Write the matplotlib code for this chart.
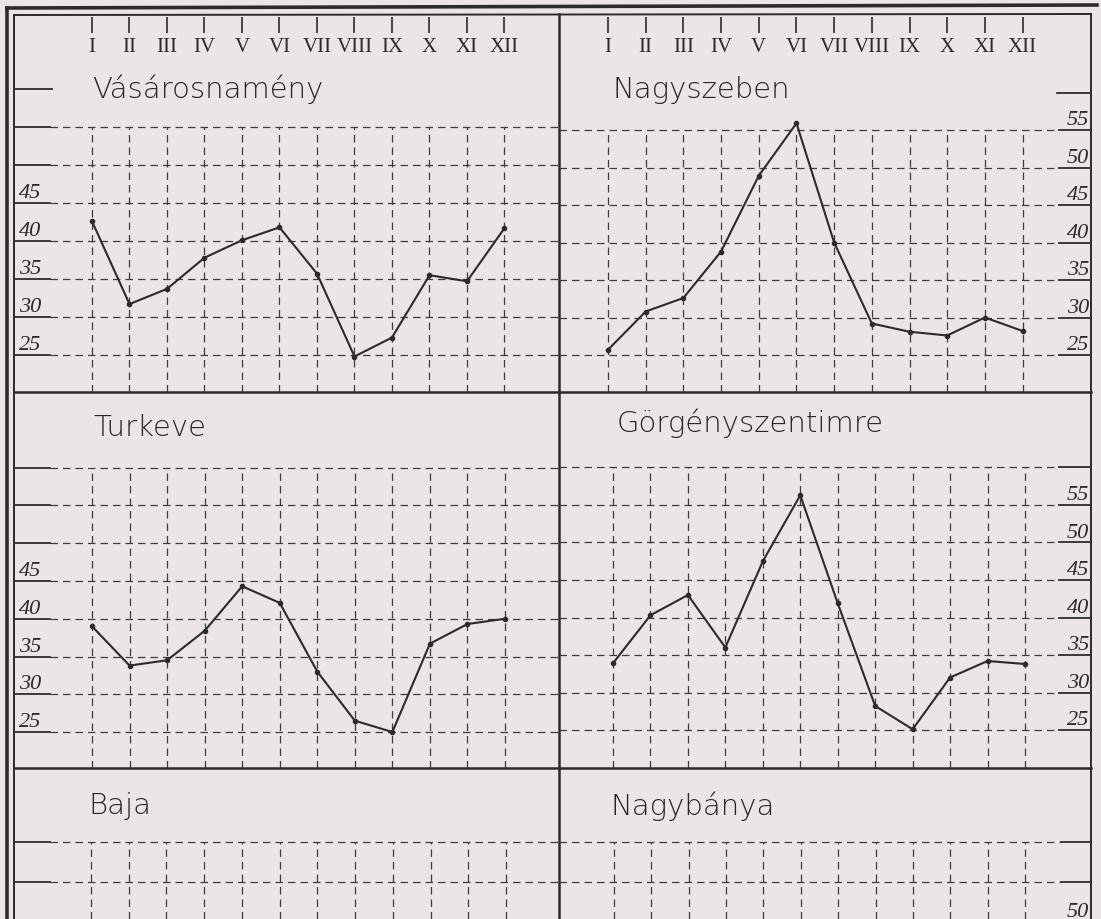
import matplotlib
matplotlib.use("Agg")
import matplotlib.pyplot as plt

# month labels (roman numerals) and monthly values
months = ["I", "II", "III", "IV", "V", "VI", "VII", "VIII", "IX", "X", "XI", "XII"]
month_idx = list(range(1, 13))

vasarosnameny = [42.6, 31.7, 33.7, 37.8, 40.1, 41.8, 35.7, 24.8, 27.3, 35.5, 34.7, 41.7]
nagyszeben = [25.7, 30.8, 32.6, 38.8, 48.9, 55.9, 40.0, 29.2, 28.1, 27.6, 30.0, 28.2]
turkeve = [39.0, 33.8, 34.5, 38.4, 44.3, 42.1, 33.0, 26.5, 25.0, 36.7, 39.3, 40.0]
gorgenyszentimre = [33.9, 40.3, 43.0, 36.0, 47.5, 56.3, 41.9, 28.2, 25.1, 32.0, 34.2, 33.8]

left_labels = [45, 40, 35, 30, 25]
right_labels = [55, 50, 45, 40, 35, 30, 25]

W, H = 1101, 920
BG = "#ebe5e7"
INK = "#2b2b2b"
GRID = "#3c3c3c"
SERIF = ["Liberation Serif", "DejaVu Serif"]
SANS = ["DejaVu Sans"]

fig = plt.figure(figsize=(W / 100, H / 100), dpi=100, facecolor=BG)

# background axes in pixel units for the frame of the sheet
bg = fig.add_axes([0, 0, 1, 1])
bg.set_xlim(0, W)
bg.set_ylim(H, 0)
bg.axis("off")
bg.plot([7, 7], [9, H], color=INK, lw=2.6)
bg.plot([14, 14], [16, H], color=INK, lw=1.4)
bg.plot([7, 1097], [9, 6], color=INK, lw=2.6)
bg.plot([14, 1091], [16, 15], color=INK, lw=1.4)
bg.plot([1091, 1091], [15, H], color=INK, lw=1.4)
bg.plot([14, 1091], [393, 393], color=INK, lw=1.8)
bg.plot([14, 1091], [769, 769], color=INK, lw=1.8)
bg.plot([559, 559], [15, H], color=INK, lw=1.8)


def make_panel(box, x_first, x_last, y_hi, v_hi, y_lo, v_lo):
    # box = (left, right, top, bottom) in pixels; anchors map months / values to pixels
    l, r, t, b = box
    ax = fig.add_axes([l / W, 1 - b / H, (r - l) / W, (b - t) / H])
    ax.patch.set_alpha(0)
    dx = (x_last - x_first) / 11
    dy = (y_lo - y_hi) / (v_hi - v_lo)
    ax.set_xlim(1 - (x_first - l) / dx, 1 + (r - x_first) / dx)
    ax.set_ylim(v_lo - (b - y_lo) / dy, v_hi + (y_hi - t) / dy)
    ax.axis("off")
    ax.px = (r - l, b - t)
    return ax


def draw_grid(ax, levels, side, top_level, seg_px=36):
    seg = seg_px / ax.px[0]
    tr = ax.get_yaxis_transform()
    for v in levels:
        if side == "left":
            ax.plot([0, seg], [v, v], transform=tr, color=INK, lw=1.3)
            ax.axhline(v, xmin=seg, xmax=1, color=GRID, lw=0.9, ls=(0, (6, 4)))
        else:
            ax.plot([1 - seg, 1], [v, v], transform=tr, color=INK, lw=1.3)
            ax.axhline(v, xmin=0, xmax=1 - seg, color=GRID, lw=0.9, ls=(0, (6, 4)))
    ax.vlines(month_idx, ax.get_ylim()[0], top_level, color=GRID, lw=0.9,
              linestyles=(0, (6, 4)))


def draw_labels(ax, labels, side):
    tr = ax.get_yaxis_transform()
    for v in labels:
        if side == "left":
            ax.text(5 / ax.px[0], v + 0.1, str(v), transform=tr,
                    ha="left", va="bottom", fontsize=16, style="italic",
                    family=SERIF, color=INK)
        else:
            ax.text(1 - 2 / ax.px[0], v + 0.1, str(v), transform=tr, ha="right",
                    va="bottom", fontsize=16, style="italic", family=SERIF, color=INK)


def draw_months(ax, box):
    l, r, t, b = box
    h = b - t
    tr = ax.get_xaxis_transform()
    ax.vlines(month_idx, 1 - (18 - t) / h, 1 - (34 - t) / h, transform=tr,
              color=INK, lw=1.2)
    for m, lab in zip(month_idx, months):
        ax.text(m, 1 - (48 - t) / h, lab, transform=tr, ha="center", va="center",
                fontsize=15, family=SERIF, color=INK)


def draw_series(ax, values):
    ax.plot(month_idx, values, color=INK, lw=1.5, marker="o", ms=3,
            mfc=INK, mec=INK, solid_joinstyle="round")


def title(ax, box, text, x_px, y_px):
    l, r, t, b = box
    ax.text((x_px - l) / (r - l), 1 - (y_px - t) / (b - t), text,
            transform=ax.transAxes, ha="left", va="center", fontsize=21,
            family=SANS, weight="light", color="#262626")


# top row
box_tl = (14, 559, 15, 393)
ax_tl = make_panel(box_tl, 92, 504.5, 204, 45, 356, 25)
draw_grid(ax_tl, [55, 50, 45, 40, 35, 30, 25], "left", 55)
ax_tl.plot([0, 38 / ax_tl.px[0]], [60, 60], transform=ax_tl.get_yaxis_transform(),
           color=INK, lw=1.3)
draw_labels(ax_tl, left_labels, "left")
draw_months(ax_tl, box_tl)
draw_series(ax_tl, vasarosnameny)
title(ax_tl, box_tl, "Vásárosnamény", 92, 89)

box_tr = (559, 1091, 15, 393)
ax_tr = make_panel(box_tr, 608, 1022.6, 131, 55, 356, 25)
draw_grid(ax_tr, [55, 50, 45, 40, 35, 30, 25], "right", 55, seg_px=32)
ax_tr.plot([1 - 34 / ax_tr.px[0], 1], [60, 60], transform=ax_tr.get_yaxis_transform(),
           color=INK, lw=1.3)
draw_labels(ax_tr, right_labels, "right")
draw_months(ax_tr, box_tr)
draw_series(ax_tr, nagyszeben)
title(ax_tr, box_tr, "Nagyszeben", 613, 90)

# middle row
box_ml = (14, 559, 393, 769)
ax_ml = make_panel(box_ml, 92, 505, 582, 45, 733, 25)
draw_grid(ax_ml, [60, 55, 50, 45, 40, 35, 30, 25], "left", 60)
draw_labels(ax_ml, left_labels, "left")
draw_series(ax_ml, turkeve)
title(ax_ml, box_ml, "Turkeve", 93, 428)

box_mr = (559, 1091, 393, 769)
ax_mr = make_panel(box_mr, 613, 1025, 506, 55, 731, 25)
draw_grid(ax_mr, [60, 55, 50, 45, 40, 35, 30, 25], "right", 60, seg_px=32)
draw_labels(ax_mr, right_labels, "right")
draw_series(ax_mr, gorgenyszentimre)
title(ax_mr, box_mr, "Görgényszentimre", 617, 423)

# bottom row (cut off by the scan)
box_bl = (14, 559, 769, 920)
ax_bl = make_panel(box_bl, 91, 506, 843, 60, 883, 55)
draw_grid(ax_bl, [60, 55, 50], "left", 60)
title(ax_bl, box_bl, "Baja", 88, 806)

box_br = (559, 1091, 769, 920)
ax_br = make_panel(box_br, 614, 1025, 843, 60, 883, 55)
draw_grid(ax_br, [60, 55, 50], "right", 60, seg_px=30)
draw_labels(ax_br, [50], "right")
title(ax_br, box_br, "Nagybánya", 611, 806)

fig.savefig("out.png", dpi=100, facecolor=BG)
